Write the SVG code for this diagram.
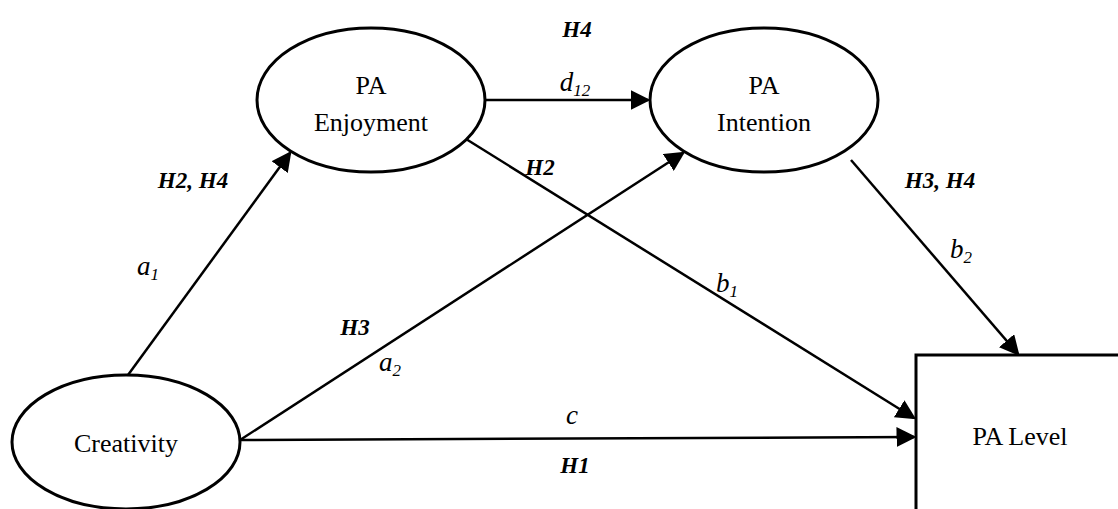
<svg xmlns="http://www.w3.org/2000/svg" width="1118" height="509" viewBox="0 0 1118 509">
<style>
.n{fill:#fff;stroke:#000;stroke-width:3}
text{font-family:"Liberation Serif","DejaVu Serif","Times New Roman",serif;fill:#000;text-anchor:middle}
.t{font-size:26px}
.h{font-size:23px;font-weight:bold;font-style:italic}
.p{font-size:27px;font-style:italic}
.s{font-size:17px}
.c line{stroke:#000;stroke-width:2.5;marker-end:url(#ah)}
</style>
<defs>
<marker id="ah" markerWidth="8" markerHeight="8" refX="7" refY="4" orient="auto" markerUnits="strokeWidth">
<path d="M0,0 L8,4 L0,8 Z" fill="#000"/>
</marker>
</defs>
<rect width="1118" height="509" fill="#fff"/>
<g class="c" id="connectors">
<line x1="128" y1="375" x2="290" y2="153"/>
<line x1="240" y1="440" x2="683" y2="153"/>
<line x1="240" y1="440" x2="914" y2="437"/>
<line x1="485" y1="100" x2="648" y2="100"/>
<line x1="466" y1="139" x2="914" y2="418"/>
<line x1="851" y1="160" x2="1018" y2="354"/>
</g>
<g id="creativity"><ellipse class="n" cx="126" cy="442" rx="114" ry="67"/><text class="t" x="126" y="452">Creativity</text></g>
<g id="enjoyment"><ellipse class="n" cx="371" cy="100" rx="114" ry="72"/><text class="t" x="371" y="94">PA</text><text class="t" x="371" y="131">Enjoyment</text></g>
<g id="intention"><ellipse class="n" cx="764" cy="100" rx="114" ry="72"/><text class="t" x="764" y="94">PA</text><text class="t" x="764" y="131">Intention</text></g>
<g id="level"><rect class="n" x="916" y="355" width="210" height="160"/><text class="t" x="1020" y="445">PA Level</text></g>
<g id="labels">
<text class="h" x="577" y="37">H4</text>
<text class="p" x="575" y="91">d<tspan class="s" dy="5">12</tspan></text>
<text class="h" x="193" y="188">H2, H4</text>
<text class="p" x="148" y="275">a<tspan class="s" dy="5">1</tspan></text>
<text class="h" x="540" y="175">H2</text>
<text class="h" x="940" y="188">H3, H4</text>
<text class="p" x="961" y="258">b<tspan class="s" dy="5">2</tspan></text>
<text class="p" x="727" y="292">b<tspan class="s" dy="5">1</tspan></text>
<text class="h" x="355" y="335">H3</text>
<text class="p" x="390" y="371">a<tspan class="s" dy="5">2</tspan></text>
<text class="p" x="572" y="424">c</text>
<text class="h" x="575" y="473">H1</text>
</g>
</svg>
